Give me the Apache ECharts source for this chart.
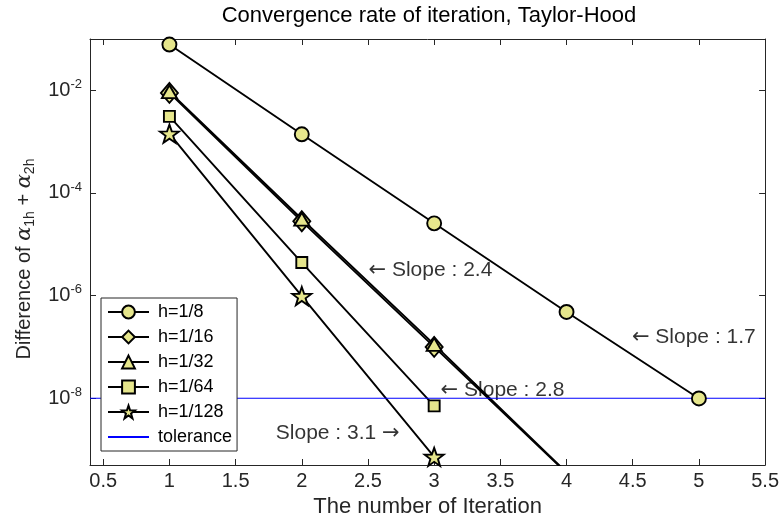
<!DOCTYPE html>
<html>
<head>
<meta charset="utf-8">
<script src="https://cdn.jsdelivr.net/npm/echarts@6/dist/echarts.min.js"></script>
<style>
  html, body { margin: 0; padding: 0; background: #ffffff; }
  #chart { width: 782px; height: 523px; }
</style>
</head>
<body>
<div id="chart"></div>
<script>
// Iteration counts on the horizontal axis
const iterations = [1, 2, 3, 4, 5];

// Difference of alpha_1h + alpha_2h per iteration, one array per mesh size
const err_h8   = [7.8e-2, 1.39e-3, 2.56e-5, 4.8e-7, 9.9e-9];
const err_h16  = [8.9e-3, 2.8e-5, 1.0e-7, 3.5e-10];
const err_h32  = [9.4e-3, 3.1e-5, 1.12e-7, 3.6e-10];
const err_h64  = [3.1e-3, 4.4e-6, 7.1e-9];
const err_h128 = [1.43e-3, 9.8e-7, 7.2e-10];

// Stopping tolerance
const tolerance = 1e-8;

// Axis ranges and tick values
const xRange = [0.4, 5.5];
const yRange = [5e-10, 0.1];
const xTicks = [0.5, 1, 1.5, 2, 2.5, 3, 3.5, 4, 4.5, 5, 5.5];

// Slope annotations (anchor in data coordinates)
const noteX    = [2.5, 4.49, 3.045, 1.8];
const noteY    = [3.1e-6, 1.55e-7, 1.43e-8, 2.08e-9];
const noteText = ['\u2190 Slope : 2.4', '\u2190 Slope : 1.7', '\u2190 Slope : 2.8', 'Slope : 3.1 \u2192'];

const FONT = '"Liberation Sans", Arial, Helvetica, sans-serif';
const INK = '#262626';
const FILL = '#e6e68c';
const STAR = 'path://M0,-10 L2.35,-3.24 L9.51,-3.09 L3.8,1.24 L5.88,8.09 L0,4 L-5.88,8.09 L-3.8,1.24 L-9.51,-3.09 L-2.35,-3.24 Z';

function errorSeries(name, values, symbol, size) {
  return {
    name: name,
    type: 'line',
    data: values.map((v, i) => [iterations[i], v]),
    symbol: symbol,
    symbolSize: size,
    symbolKeepAspect: true,
    showAllSymbol: true,
    clip: true,
    lineStyle: { color: '#000000', width: 1.9 },
    itemStyle: { color: FILL, borderColor: '#000000', borderWidth: 1.9 },
    emphasis: { disabled: true },
    animation: false
  };
}

const chart = echarts.init(document.getElementById('chart'), null, { renderer: 'canvas' });

const tickStyle = { color: INK, width: 1 };

// Only even powers of ten carry a label, written as 10 with a raised exponent
function supLabel(v) {
  const e = Math.log10(v);
  const r = Math.round(e);
  if (Math.abs(e - r) > 1e-6 || r % 2 !== 0) return '';
  return '{b|10}{s|' + r + '}';
}

// Arrows are set in DejaVu Sans for a longer shaft
function noteLabel(text) {
  return text.replace(/[\u2190\u2192]/g, m => '{ar|' + m + '}');
}

const option = {
  backgroundColor: '#ffffff',
  animation: false,
  textStyle: { fontFamily: FONT, color: INK },
  title: {
    text: 'Convergence rate of iteration, Taylor-Hood',
    left: 429,
    top: 5,
    padding: 0,
    textAlign: 'center',
    textStyle: { fontFamily: FONT, fontSize: 22, fontWeight: 'normal', color: '#000000' }
  },
  grid: { left: 90, right: 15, top: 39, bottom: 58, containLabel: false },
  legend: {
    orient: 'vertical',
    left: 101,
    top: 298,
    padding: [5, 5, 5, 6],
    itemWidth: 41,
    itemHeight: 16,
    itemGap: 7,
    backgroundColor: '#ffffff',
    borderColor: INK,
    borderWidth: 1,
    borderRadius: 0,
    textStyle: { fontFamily: FONT, fontSize: 18, color: '#000000', padding: [0, 0, 0, 4] },
    data: [
      'h=1/8', 'h=1/16', 'h=1/32', 'h=1/64', 'h=1/128',
      { name: 'tolerance', itemStyle: { opacity: 0 } }
    ],
    selectedMode: false
  },
  xAxis: [
    {
      type: 'value',
      min: xRange[0],
      max: xRange[1],
      position: 'bottom',
      axisLine: { show: true, onZero: false, lineStyle: tickStyle },
      axisTick: { show: true, inside: true, length: 6, customValues: xTicks, lineStyle: tickStyle },
      axisLabel: { show: true, customValues: xTicks, formatter: v => String(v), fontSize: 20, margin: 6, color: INK, fontFamily: FONT },
      splitLine: { show: false },
      name: 'The number of Iteration',
      nameLocation: 'middle',
      nameGap: 31,
      nameTextStyle: { fontSize: 22, color: INK, fontFamily: FONT }
    },
    {
      type: 'value',
      min: xRange[0],
      max: xRange[1],
      position: 'top',
      axisLine: { show: true, onZero: false, lineStyle: tickStyle },
      axisTick: { show: true, inside: true, length: 6, customValues: xTicks, lineStyle: tickStyle },
      axisLabel: { show: false },
      splitLine: { show: false }
    }
  ],
  yAxis: [
    {
      type: 'log',
      logBase: 100,
      min: yRange[0],
      max: yRange[1],
      position: 'left',
      axisLine: { show: true, onZero: false, lineStyle: tickStyle },
      axisTick: { show: true, inside: true, length: 6, lineStyle: tickStyle },
      axisLabel: {
        show: true,
        margin: 8,
        formatter: supLabel,
        rich: {
          b: { fontSize: 20, color: INK, fontFamily: FONT, lineHeight: 20 },
          s: { fontSize: 13, color: INK, fontFamily: FONT, lineHeight: 13, padding: [0, 0, 12, 0] }
        }
      },
      splitLine: { show: false },
      minorTick: { show: false },
      name: '{n|Difference of }{a|\u03b1}{sub|1h}{n| + }{a|\u03b1}{sub|2h}',
      nameLocation: 'middle',
      nameRotate: 90,
      nameGap: 48,
      nameTextStyle: {
        padding: [0, 14, 0, 0],
        rich: {
          n: { fontSize: 20, color: INK, fontFamily: FONT },
          a: { fontSize: 21, color: INK, fontFamily: '"DejaVu Serif", serif', fontStyle: 'italic' },
          sub: { fontSize: 14, color: INK, fontFamily: FONT, padding: [11, 0, 0, 0] }
        }
      }
    },
    {
      type: 'log',
      logBase: 100,
      min: yRange[0],
      max: yRange[1],
      position: 'right',
      axisLine: { show: true, onZero: false, lineStyle: tickStyle },
      axisTick: { show: true, inside: true, length: 6, lineStyle: tickStyle },
      axisLabel: { show: false },
      splitLine: { show: false },
      minorTick: { show: false }
    }
  ],
  series: [
    errorSeries('h=1/8', err_h8, 'circle', 14),
    errorSeries('h=1/16', err_h16, 'diamond', [17, 20]),
    errorSeries('h=1/32', err_h32, 'triangle', [15, 13]),
    errorSeries('h=1/64', err_h64, 'rect', 11),
    errorSeries('h=1/128', err_h128, STAR, 19),
    {
      name: 'tolerance',
      type: 'line',
      data: [[xRange[0], tolerance], [xRange[1], tolerance]],
      symbol: 'none',
      lineStyle: { color: '#0000ff', width: 1.2 },
      itemStyle: { color: '#0000ff' },
      emphasis: { disabled: true },
      z: 3,
      animation: false
    },
    {
      name: 'notes',
      type: 'scatter',
      data: noteX.map((x, i) => ({
        value: [x, noteY[i]],
        label: { formatter: noteLabel(noteText[i]) }
      })),
      symbolSize: 1,
      itemStyle: { color: 'rgba(0,0,0,0)' },
      label: {
        show: true,
        position: 'right',
        distance: 0,
        fontSize: 21,
        fontFamily: FONT,
        color: '#000000',
        rich: {
          ar: { fontSize: 21, fontFamily: '"DejaVu Sans", sans-serif', color: '#000000' }
        }
      },
      silent: true,
      emphasis: { disabled: true },
      animation: false
    }
  ]
};

chart.setOption(option);
</script>
</body>
</html>
